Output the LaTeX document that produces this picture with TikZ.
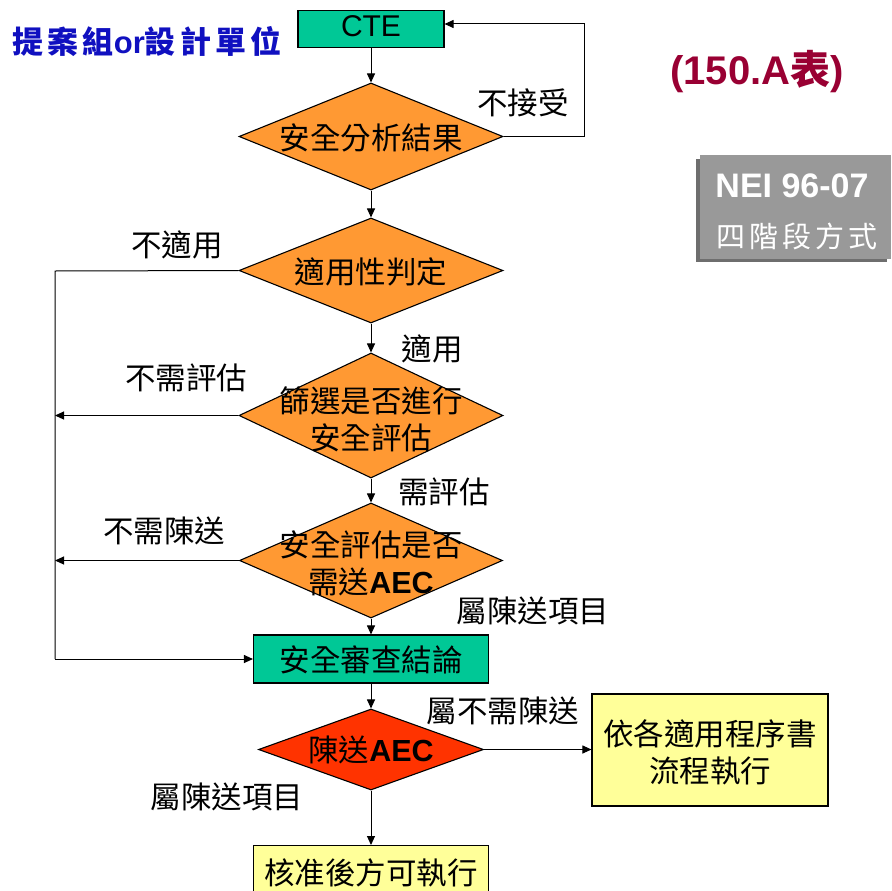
\documentclass[tikz,border=0pt]{standalone}
\usepackage{fontspec}
\setmainfont{Noto Sans CJK TC}
\newfontfamily\ar{Liberation Sans}
\newfontfamily\spacedcjk[LetterSpace=14]{Noto Sans CJK TC}
\usetikzlibrary{shapes.geometric,arrows.meta}
\definecolor{dorange}{HTML}{FF9933}
\definecolor{teal}{HTML}{00C896}
\definecolor{dred}{HTML}{FF3300}
\definecolor{lyellow}{HTML}{FFFF99}
\definecolor{tblue}{HTML}{1010C0}
\definecolor{maroon}{HTML}{990033}
\definecolor{gbox}{HTML}{999999}
\definecolor{gshadow}{HTML}{6E6E6E}
\tikzset{
  dia/.style={diamond, draw=black, line width=1.1pt, fill=dorange, inner sep=0pt},
  box/.style={draw=black, line width=1.1pt, rectangle, inner sep=0pt},
  txt/.style={font=\fontsize{30.5}{37}\selectfont, align=center, inner sep=0pt},
  lbl/.style={font=\fontsize{30.5}{34}\selectfont, inner sep=0pt},
  arr/.style={-{Triangle[length=9pt,width=8pt]}, line width=1pt},
  ln/.style={line width=1pt}
}
\begin{document}
\begin{tikzpicture}[x=1pt,y=-1pt]
\useasboundingbox (0,0) rectangle (891,891);

% title texts
\node[inner sep=0pt, text=tblue, font=\fontsize{31}{33}\selectfont\bfseries] (title) at (147,42)
  {\spacedcjk\bfseries 提案組\ar\bfseries or\spacedcjk\bfseries 設計單位};
\node[inner sep=0pt, text=maroon, font=\fontsize{40}{42}\selectfont\bfseries] (form) at (757,72)
  {\ar\bfseries (150.A\rmfamily\bfseries 表\ar\bfseries )};

% NEI box
\fill[gshadow] (696,159) rectangle (887,262);
\node[rectangle, fill=gbox, minimum width=191pt, minimum height=104pt, inner sep=0pt, anchor=north west] (nei) at (700,155) {};
\node[inner sep=0pt, text=white, font=\fontsize{34}{36}\selectfont] (neit1) at (792,186) {\ar\bfseries NEI 96-07};
\node[inner sep=0pt, text=white, font=\fontsize{29}{32}\selectfont] (neit2) at (797,236) {\spacedcjk 四階段方式};

% CTE
\node[box, fill=teal, minimum width=146pt, minimum height=37pt] (cte) at (371,29) {};
\node[inner sep=0pt, font=\fontsize{30}{32}\ar] at (371,26) {CTE};

% diamonds
\node[dia, minimum width=264pt, minimum height=107pt] (d1) at (371,136.5) {};
\node[txt] at (371,138) {安全分析結果};
\node[dia, minimum width=264pt, minimum height=105pt] (d2) at (371,270.5) {};
\node[txt] at (371,272) {適用性判定};
\node[dia, minimum width=264pt, minimum height=125pt] (d3) at (371,415.5) {};
\node[txt] at (371,419) {篩選是否進行\\安全評估};
\node[dia, minimum width=263pt, minimum height=115pt] (d4) at (371,560.5) {};
\node[txt] at (371,563) {安全評估是否\\需送{\ar\bfseries AEC}};

% review box
\node[box, fill=teal, minimum width=235pt, minimum height=48pt] (rev) at (371,659) {};
\node[txt] at (371,660) {安全審查結論};

\node[dia, fill=dred, minimum width=225pt, minimum height=81pt] (d5) at (371,749.5) {};
\node[txt] at (371,750) {陳送{\ar\bfseries AEC}};

\node[box, fill=lyellow, minimum width=236pt, minimum height=112pt] (proc) at (710,750) {};
\node[txt] at (710,752) {依各適用程序書\\流程執行};

\node[box, fill=lyellow, minimum width=235pt, minimum height=60pt, anchor=north] (appr) at (371,845) {};
\node[txt] at (371,873) {核准後方可執行};

% coordinates
\coordinate (lx) at (55,271);
\coordinate (lb) at (55,659);
\coordinate (la) at (584,136.5);
\coordinate (lt) at (584,24);

% connectors
\draw[arr] (cte.south) -- (d1.north);
\draw[arr] (d1.east) -- (la) -- (lt) -- (cte.east |- lt);
\draw[arr] (d1.south) -- (d2.north);
\draw[arr] (d2.south) -- (d3.north);
\draw[arr] (d3.south) -- (d4.north);
\draw[arr] (d4.south) -- (rev.north);
\draw[ln] (d2.west) -- (lx) -- (lb);
\draw[arr] (lb) -- (rev.west);
\draw[arr] (d3.west) -- (lx |- d3.west);
\draw[arr] (d4.west) -- (lx |- d4.west);
\draw[arr] (rev.south) -- (d5.north);
\draw[arr] (d5.east) -- (proc.west |- d5.east);
\draw[arr] (d5.south) -- (appr.north);

% labels
\node[lbl] at (523,103) {不接受};
\node[lbl] at (177,245) {不適用};
\node[lbl] at (432,349) {適用};
\node[lbl] at (186,378) {不需評估};
\node[lbl] at (444,492) {需評估};
\node[lbl] at (164,531) {不需陳送};
\node[lbl] at (533,611) {屬陳送項目};
\node[lbl] at (503,711) {屬不需陳送};
\node[lbl] at (227,797) {屬陳送項目};
\end{tikzpicture}
\end{document}
